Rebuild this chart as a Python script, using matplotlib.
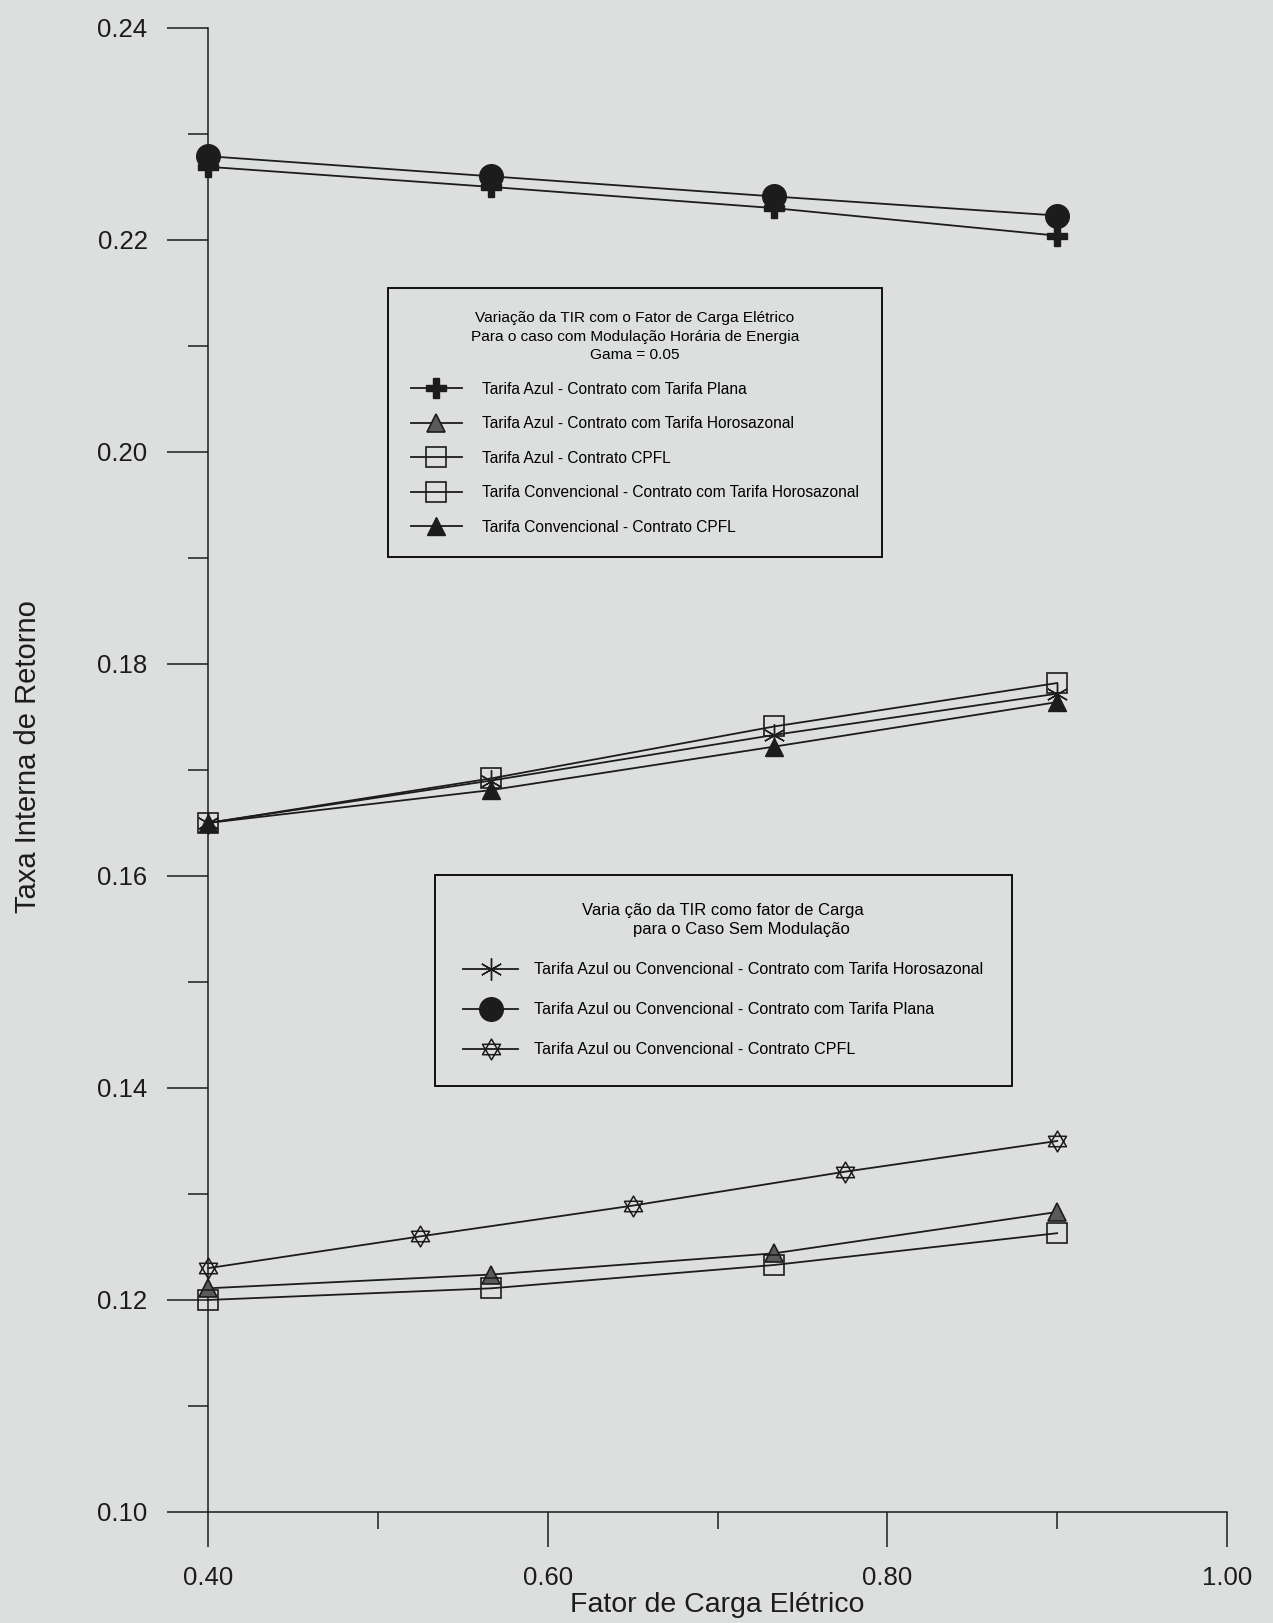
import matplotlib.pyplot as plt
import numpy as np
from matplotlib.path import Path
from matplotlib.ticker import MultipleLocator, FormatStrFormatter
from matplotlib import font_manager

# fator de carga
fator_4 = [0.40, 0.5667, 0.7333, 0.90]
fator_5 = [0.40, 0.525, 0.65, 0.775, 0.90]

# com modulacao horaria de energia (gama = 0.05)
azul_plana = [0.2269, 0.2250, 0.2230, 0.2204]
azul_horo = [0.1211, 0.1224, 0.1244, 0.1283]
azul_cpfl = [0.1200, 0.1211, 0.1233, 0.1263]
conv_horo = [0.1650, 0.1692, 0.1741, 0.1782]
conv_cpfl = [0.1650, 0.1681, 0.1722, 0.1764]

# sem modulacao
sem_horo = [0.1650, 0.1690, 0.1733, 0.1772]
sem_plana = [0.2279, 0.2260, 0.2241, 0.2223]
sem_cpfl = [0.1230, 0.1260, 0.1289, 0.1321, 0.1350]

bg = '#dcdfdd'
ink = '#1c1c1c'

try:
    font_manager.findfont('Liberation Sans Narrow', fallback_to_default=False)
    narrow = ['Liberation Sans Narrow', 'DejaVu Sans']
    shrink = 1.2
except ValueError:
    narrow = ['Liberation Sans', 'DejaVu Sans']
    shrink = 1.0

plt.rcParams['font.family'] = ['Liberation Sans', 'DejaVu Sans']

# estrela de davi: dois triangulos sobrepostos
up = [(0, 1), (-0.866, -0.5), (0.866, -0.5), (0, 1)]
down = [(0, -1), (-0.866, 0.5), (0.866, 0.5), (0, -1)]
codes = [Path.MOVETO, Path.LINETO, Path.LINETO, Path.CLOSEPOLY] * 2
hexagram = Path(up + down, codes)

fig = plt.figure(figsize=(12.73, 16.23), dpi=100, facecolor=bg)
ax = fig.add_axes([0.1634, 0.0684, 0.8005, 0.9144], facecolor=bg)

lw = 1.3
common = dict(color=ink, lw=lw, clip_on=False, zorder=3)

h_plana, = ax.plot(fator_4, azul_plana, marker='P', ms=15, mfc=ink, mec=ink, **common)
h_azul_horo, = ax.plot(fator_4, azul_horo, marker='^', ms=13, mfc='#5a5a5a', mec=ink, mew=1.2, **common)
h_azul_cpfl, = ax.plot(fator_4, azul_cpfl, marker='s', ms=15, mfc='none', mec=ink, mew=1.2, **common)
h_conv_horo, = ax.plot(fator_4, conv_horo, marker='s', ms=15, mfc='none', mec=ink, mew=1.2, **common)
h_conv_cpfl, = ax.plot(fator_4, conv_cpfl, marker='^', ms=13, mfc=ink, mec=ink, **common)

h_sem_horo, = ax.plot(fator_4, sem_horo, marker=(6, 2, 0), ms=16, mec=ink, mew=1.0, **common)
h_sem_plana, = ax.plot(fator_4, sem_plana, marker='o', ms=17, mfc=ink, mec=ink, **common)
h_sem_cpfl, = ax.plot(fator_5, sem_cpfl, marker=hexagram, ms=15, mfc='none', mec=ink, mew=1.1, **common)

ax.set_xlim(0.4, 1.0)
ax.set_ylim(0.10, 0.24)
ax.xaxis.set_major_locator(MultipleLocator(0.2))
ax.xaxis.set_minor_locator(MultipleLocator(0.1))
ax.yaxis.set_major_locator(MultipleLocator(0.02))
ax.yaxis.set_minor_locator(MultipleLocator(0.01))
ax.xaxis.set_major_formatter(FormatStrFormatter('%.2f'))
ax.yaxis.set_major_formatter(FormatStrFormatter('%.2f'))

for side in ('top', 'right'):
    ax.spines[side].set_visible(False)
for side in ('left', 'bottom'):
    ax.spines[side].set_linewidth(1.1)
    ax.spines[side].set_color(ink)

ax.tick_params(axis='y', which='major', direction='out', length=29.5, width=1.1,
               pad=14, labelsize=18.5, colors=ink)
ax.tick_params(axis='y', which='minor', direction='out', length=14.4, width=1.1, colors=ink)
ax.tick_params(axis='x', which='major', direction='out', length=25, width=1.1,
               pad=14, labelsize=18.5, colors=ink)
ax.tick_params(axis='x', which='minor', direction='out', length=12, width=1.1, colors=ink)

ax.set_xlabel('Fator de Carga Elétrico', fontsize=20.5, color=ink, va='top')
ax.xaxis.set_label_coords(0.5, -0.054)
ax.set_ylabel('Taxa Interna de Retorno', fontsize=21, color=ink)
ax.yaxis.set_label_coords(-0.163, 0.509)

leg_style = dict(loc='upper left', bbox_transform=fig.transFigure, borderaxespad=0,
                 frameon=True, fancybox=False, edgecolor='black', facecolor=bg,
                 framealpha=1, numpoints=1)

leg1 = ax.legend(
    handles=[h_plana, h_azul_horo, h_azul_cpfl, h_conv_horo, h_conv_cpfl],
    labels=['Tarifa Azul - Contrato com Tarifa Plana',
            'Tarifa Azul - Contrato com Tarifa Horosazonal',
            'Tarifa Azul - Contrato CPFL',
            'Tarifa Convencional - Contrato com Tarifa Horosazonal',
            'Tarifa Convencional - Contrato CPFL'],
    title='Variação da TIR com o Fator de Carga Elétrico\n'
          'Para o caso com Modulação Horária de Energia\n'
          'Gama = 0.05',
    bbox_to_anchor=(388 / 1273, 1 - 288 / 1623),
    prop={'family': narrow, 'size': 11.2 * shrink},
    title_fontproperties={'family': narrow, 'size': 11.1 * shrink},
    handlelength=3.3, handletextpad=1.3, labelspacing=1.25, borderpad=1.45,
    **leg_style)
leg1.get_frame().set_linewidth(1.3)
leg1.get_title().set_multialignment('center')
leg1.get_title().set_linespacing(1.45)
ax.add_artist(leg1)

leg2 = ax.legend(
    handles=[h_sem_horo, h_sem_plana, h_sem_cpfl],
    labels=['Tarifa Azul ou Convencional - Contrato com Tarifa Horosazonal',
            'Tarifa Azul ou Convencional - Contrato com Tarifa Plana',
            'Tarifa Azul ou Convencional - Contrato CPFL'],
    title='Varia ção da TIR como fator de Carga\n'
          '        para o Caso Sem Modulação',
    bbox_to_anchor=(435 / 1273, 1 - 875 / 1623),
    prop={'family': narrow, 'size': 11.6 * shrink},
    title_fontproperties={'family': narrow, 'size': 12.0 * shrink},
    handlelength=3.4, handletextpad=1.0, labelspacing=1.55, borderpad=1.75,
    **leg_style)
leg2.get_frame().set_linewidth(1.3)
leg2.get_title().set_multialignment('center')
leg2.get_title().set_linespacing(1.35)

fig.savefig('out.png', dpi=100, facecolor=bg)
